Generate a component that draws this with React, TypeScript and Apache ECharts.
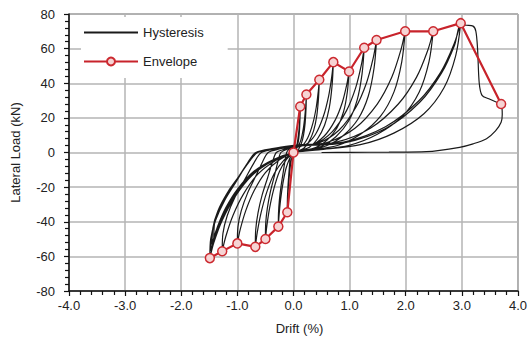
import React, { useEffect, useRef } from "react";
import * as echarts from "echarts";

// Envelope (peak points of each drift level)
const envDrift = [-1.49, -1.27, -1.0, -0.68, -0.5, -0.27, -0.11, 0, 0.12, 0.23, 0.46, 0.71, 0.99, 1.26, 1.48, 1.99, 2.49, 2.98, 3.7];
const envLoad = [-61, -57, -52.5, -54.5, -50, -42.8, -34.5, 0, 26.6, 33.5, 42, 52.2, 46.8, 60.5, 65, 70, 70, 74.7, 28];

// Hysteresis cycles, [drift %, load kN]
const cycle1: number[][] = [[0,1.3],[0.036,2.1],[0.066,5.3],[0.09,10.6],[0.106,16.5],[0.115,22.3],[0.12,26.6],[0.116,20],[0.108,13.3],[0.094,8],[0.072,4],[0.048,1.6],[0.018,0.5],[0,0],[-0.028,-2.8],[-0.055,-7.6],[-0.077,-14.5],[-0.094,-22],[-0.105,-29.3],[-0.11,-34.5],[-0.109,-28.3],[-0.102,-22],[-0.09,-15.5],[-0.075,-9.3],[-0.06,-3.5],[-0.05,0],[-0.03,1.5],[0,2.4]];
const cycle2: number[][] = [[0.02,2.6],[0.069,3],[0.127,6.7],[0.173,13.4],[0.202,20.8],[0.221,28.1],[0.23,33.5],[0.223,25.1],[0.207,16.8],[0.179,10.1],[0.138,5],[0.092,2],[0.035,0.7],[0,0],[-0.068,-3.4],[-0.135,-9.4],[-0.189,-18],[-0.23,-27.4],[-0.257,-36.4],[-0.27,-42.8],[-0.267,-35.1],[-0.251,-27.4],[-0.221,-19.3],[-0.184,-11.6],[-0.149,-4.3],[-0.122,0],[-0.08,1.8],[0,3]];
const cycle3: number[][] = [[0.03,3.2],[0.138,3.6],[0.253,8.4],[0.345,16.8],[0.405,26],[0.442,35.3],[0.46,42],[0.446,31.5],[0.414,21],[0.359,12.6],[0.276,6.3],[0.184,2.5],[0.069,0.8],[0,0],[-0.125,-4],[-0.25,-11],[-0.35,-21],[-0.425,-32],[-0.475,-42.5],[-0.5,-50],[-0.495,-41],[-0.465,-32],[-0.41,-22.5],[-0.34,-13.5],[-0.275,-5],[-0.225,0],[-0.12,1.8],[0,3.2]];
const cycle4: number[][] = [[0.04,3.5],[0.213,4.4],[0.391,10.4],[0.533,20.9],[0.625,32.4],[0.682,43.8],[0.71,52.2],[0.689,39.2],[0.639,26.1],[0.554,15.7],[0.426,7.8],[0.284,3.1],[0.107,1],[0,0],[-0.17,-4.4],[-0.34,-12],[-0.476,-22.9],[-0.578,-34.9],[-0.646,-46.3],[-0.68,-54.5],[-0.673,-44.7],[-0.632,-34.9],[-0.558,-24.5],[-0.462,-14.7],[-0.374,-5.5],[-0.306,0],[-0.17,1.8],[0.02,3.6]];
const cycle5: number[][] = [[0.06,3.8],[0.297,4.2],[0.545,9.4],[0.743,18.7],[0.871,29],[0.95,39.3],[0.99,46.8],[0.96,35.1],[0.891,23.4],[0.772,14],[0.594,7],[0.396,2.8],[0.149,0.9],[0,0],[-0.25,-4.2],[-0.5,-11.6],[-0.7,-22],[-0.85,-33.6],[-0.95,-44.6],[-1.0,-52.5],[-0.99,-43],[-0.93,-33.6],[-0.82,-23.6],[-0.68,-14.2],[-0.55,-5.3],[-0.45,0],[-0.25,2],[0.03,3.8]];
const cycle6: number[][] = [[0.08,4],[0.378,5],[0.693,12.1],[0.945,24.2],[1.109,37.5],[1.21,50.8],[1.26,60.5],[1.222,45.4],[1.134,30.3],[0.983,18.2],[0.756,9.1],[0.504,3.6],[0.189,1.2],[0,0],[-0.318,-4.6],[-0.635,-12.5],[-0.889,-23.9],[-1.08,-36.5],[-1.206,-48.5],[-1.27,-57],[-1.257,-46.7],[-1.181,-36.5],[-1.041,-25.7],[-0.864,-15.4],[-0.699,-5.7],[-0.572,0],[-0.3,2.2],[0.04,4]];
const cycle7: number[][] = [[0.1,4.2],[0.444,5.4],[0.814,13],[1.11,26],[1.302,40.3],[1.421,54.6],[1.48,65],[1.436,48.8],[1.332,32.5],[1.154,19.5],[0.888,9.8],[0.592,3.9],[0.222,1.3],[0,0],[-0.373,-4.9],[-0.745,-13.4],[-1.043,-25.6],[-1.267,-39],[-1.416,-51.8],[-1.49,-61],[-1.475,-49.9],[-1.386,-39],[-1.222,-27.4],[-1.013,-16.4],[-0.82,-6.1],[-0.671,0],[-0.35,2.4],[0.05,4.3]];
const cycle8: number[][] = [[0.12,4.5],[0.597,5.8],[1.095,14],[1.493,28],[1.751,43.4],[1.91,58.8],[1.99,70],[1.93,52.5],[1.791,35],[1.552,21],[1.194,10.5],[0.796,4.2],[0.299,1.4],[0,0],[-0.368,-4.6],[-0.735,-12.5],[-1.029,-23.9],[-1.25,-36.5],[-1.397,-48.5],[-1.47,-57],[-1.455,-46.7],[-1.367,-36.5],[-1.205,-25.7],[-1.0,-15.4],[-0.809,-5.7],[-0.662,0],[-0.34,2.2],[0.05,4.2]];
const cycle9: number[][] = [[0.12,4.4],[0.747,5.8],[1.37,14],[1.868,28],[2.191,43.4],[2.39,58.8],[2.49,70],[2.415,52.5],[2.241,35],[1.942,21],[1.494,10.5],[0.996,4.2],[0.374,1.4],[0,0],[-0.363,-4.2],[-0.725,-11.7],[-1.015,-22.3],[-1.233,-33.9],[-1.378,-45.1],[-1.45,-53],[-1.436,-43.5],[-1.349,-33.9],[-1.189,-23.9],[-0.986,-14.3],[-0.798,-5.3],[-0.653,0],[-0.33,2],[0.05,4]];
const cycle10: number[][] = [[0.12,4.2],[0.894,6],[1.639,14.9],[2.235,29.9],[2.622,46.3],[2.861,62.7],[2.98,74.7],[2.891,56],[2.682,37.4],[2.324,22.4],[1.788,11.2],[1.192,4.5],[0.447,1.5],[0,0],[-0.355,-4],[-0.71,-11],[-0.994,-21],[-1.207,-32],[-1.349,-42.5],[-1.42,-50],[-1.406,-41],[-1.321,-32],[-1.164,-22.5],[-0.966,-13.5],[-0.781,-5],[-0.639,0],[-0.32,2],[0.05,3.8]];
const cycle11: number[][] = [[0.12,4],[0.9,5.5],[1.65,14],[2.25,29],[2.64,46],[2.87,62],[2.98,74],[3.08,73.5],[3.2,73],[3.25,70],[3.28,60],[3.31,40],[3.36,33],[3.48,31],[3.62,29],[3.7,28],[3.72,22],[3.7,17.5],[3.6,12.5],[3.44,8],[3.2,5],[2.96,3],[2.37,0.5],[1.7,0.2],[1.0,0.1],[0.5,0]];

const hysteresis = [cycle1, cycle2, cycle3, cycle4, cycle5, cycle6, cycle7, cycle8, cycle9, cycle10, cycle11];

const xTicks = { min: -4, max: 4, step: 1 };
const yTicks = { min: -80, max: 80, step: 20 };

const FONT = "'Liberation Sans', Arial, sans-serif";

export default function App() {
  const ref = useRef<HTMLDivElement>(null);
  useEffect(() => {
    document.body.style.margin = "0";
    const chart = echarts.init(ref.current!, null, { renderer: "svg" });
    const hystData: number[][] = [];
    hysteresis.forEach((c) => c.forEach((p) => hystData.push(p)));
    const envData = envDrift.map((d, i) => [d, envLoad[i]]);
    chart.setOption({
      animation: false,
      textStyle: { fontFamily: FONT },
      grid: {
        left: 69, right: 11, top: 14, bottom: 49,
        show: true, borderColor: "#555", borderWidth: 1, backgroundColor: "#fff",
      },
      legend: {
        orient: "vertical",
        left: 81, top: 17,
        padding: [9, 24, 10, 2],
        backgroundColor: "#fff",
        itemWidth: 54, itemHeight: 10, itemGap: 16,
        textStyle: { fontSize: 13, color: "#222", fontFamily: FONT },
        data: [
          { name: "Hysteresis", itemStyle: { opacity: 0 } },
          { name: "Envelope" },
        ],
      },
      xAxis: {
        type: "value",
        min: xTicks.min, max: xTicks.max, interval: xTicks.step,
        name: "Drift (%)", nameLocation: "middle", nameGap: 31,
        nameTextStyle: { fontSize: 13, color: "#222", fontFamily: FONT, padding: [0, 0, 0, 12] },
        axisLine: { onZero: false, lineStyle: { color: "#111", width: 1.5 } },
        axisTick: { show: true, length: 5, lineStyle: { color: "#111", width: 1.2 } },
        minorTick: { show: true, splitNumber: 5, length: 4, lineStyle: { color: "#111", width: 1.2 } },
        axisLabel: { fontSize: 13, color: "#222", margin: 8, formatter: (v: number) => v.toFixed(1) },
        splitLine: { show: true, lineStyle: { color: "#b4b4b4", width: 1.5 } },
      },
      yAxis: {
        type: "value",
        min: yTicks.min, max: yTicks.max, interval: yTicks.step,
        name: "Lateral Load (kN)", nameLocation: "middle", nameGap: 47, nameRotate: 90,
        nameTextStyle: { fontSize: 13, color: "#222", fontFamily: FONT },
        axisLine: { onZero: false, lineStyle: { color: "#111", width: 1.5 } },
        axisTick: { show: true, length: 5, lineStyle: { color: "#111", width: 1.2 } },
        minorTick: { show: true, splitNumber: 5, length: 4, lineStyle: { color: "#111", width: 1.2 } },
        axisLabel: { fontSize: 13, color: "#222", margin: 14 },
        splitLine: { show: true, lineStyle: { color: "#b4b4b4", width: 1.5 } },
      },
      series: [
        {
          name: "Hysteresis",
          type: "line",
          data: hystData,
          showSymbol: false,
          symbol: "none",
          smooth: 0.3,
          lineStyle: { color: "#1a1a1a", width: 1.2 },
          itemStyle: { color: "#1a1a1a" },
          z: 2,
        },
        {
          name: "Envelope",
          type: "line",
          data: envData,
          symbol: "circle",
          symbolSize: 9,
          showSymbol: true,
          lineStyle: { color: "#c8232b", width: 2.2 },
          itemStyle: { color: "#f6d4d4", borderColor: "#cc2a30", borderWidth: 1.5 },
          z: 3,
        },
      ],
    });
    return () => chart.dispose();
  }, []);
  return <div ref={ref} style={{ width: 530, height: 340 }} />;
}
